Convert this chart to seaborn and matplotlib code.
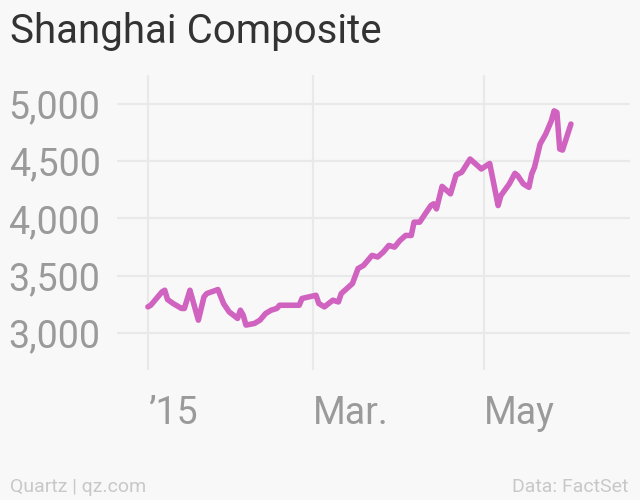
import pandas as pd
import numpy as np

import seaborn as sns
import matplotlib.pyplot as plt
import matplotlib.dates as mdates
from matplotlib.ticker import FuncFormatter

sns.set_style("white")

BG = "#f8f8f8"
LINE_COLOR = "#d062c0"
GRID_COLOR = "#e9e9e9"

# Shanghai Composite, values
dates = [
    "2015-01-01", "2015-01-02", "2015-01-05", "2015-01-06", "2015-01-07",
    "2015-01-08", "2015-01-10", "2015-01-13", "2015-01-14", "2015-01-16",
    "2015-01-17", "2015-01-19", "2015-01-21", "2015-01-22", "2015-01-26",
    "2015-01-28", "2015-01-30", "2015-02-02", "2015-02-03", "2015-02-04",
    "2015-02-05", "2015-02-08", "2015-02-10", "2015-02-12", "2015-02-14",
    "2015-02-16", "2015-02-17", "2015-02-24", "2015-02-25", "2015-03-02",
    "2015-03-03", "2015-03-05", "2015-03-08", "2015-03-10", "2015-03-11",
    "2015-03-15", "2015-03-17", "2015-03-19", "2015-03-22", "2015-03-24",
    "2015-03-26", "2015-03-28", "2015-03-30", "2015-04-01", "2015-04-03",
    "2015-04-05", "2015-04-06", "2015-04-08", "2015-04-10", "2015-04-12",
    "2015-04-13", "2015-04-14", "2015-04-16", "2015-04-19", "2015-04-21",
    "2015-04-23", "2015-04-26", "2015-04-28", "2015-04-30", "2015-05-03",
    "2015-05-04", "2015-05-06", "2015-05-07", "2015-05-10", "2015-05-12",
    "2015-05-13", "2015-05-15", "2015-05-17", "2015-05-18", "2015-05-19",
    "2015-05-21", "2015-05-23", "2015-05-25", "2015-05-26", "2015-05-27",
    "2015-05-28", "2015-05-29", "2015-06-01",
]
values = [
    3229, 3243, 3330, 3359, 3374,
    3293, 3258, 3215, 3215, 3374,
    3287, 3113, 3316, 3345, 3380,
    3258, 3185, 3128, 3200, 3157,
    3070, 3084, 3113, 3171, 3200,
    3215, 3243, 3243, 3302, 3330,
    3258, 3229, 3287, 3272, 3345,
    3432, 3563, 3591, 3678, 3664,
    3707, 3765, 3750, 3809, 3852,
    3852, 3968, 3968, 4041, 4113,
    4128, 4084, 4280, 4215, 4380,
    4403, 4519, 4476, 4432, 4480,
    4359, 4113, 4200, 4302, 4394,
    4374, 4302, 4272, 4389, 4447,
    4650, 4737, 4852, 4939, 4925,
    4606, 4597, 4824,
]

x_ticks = ["2015-01-01", "2015-03-01", "2015-05-01"]
x_tick_labels = ["\u201915", "Mar.", "May"]
y_ticks = [3000, 3500, 4000, 4500, 5000]

df = pd.DataFrame({"date": pd.to_datetime(dates), "value": values})

plt.rcParams["font.family"] = ["Roboto", "DejaVu Sans"]

fig = plt.figure(figsize=(6.4, 5), dpi=100, facecolor=BG)
ax = fig.add_axes([0.183, 0.26, 0.801, 0.59])
ax.set_facecolor(BG)

sns.lineplot(data=df, x="date", y="value", ax=ax, color=LINE_COLOR,
             linewidth=4.0, solid_joinstyle="round", solid_capstyle="round",
             zorder=3)

ax.set_xlim(pd.Timestamp("2014-12-21"), pd.Timestamp("2015-06-22"))
ax.set_ylim(2678, 5252)
ax.set_xticks(pd.to_datetime(x_ticks))
ax.set_xticklabels(x_tick_labels, ha="left")
ax.set_yticks(y_ticks)
ax.yaxis.set_major_formatter(FuncFormatter(lambda v, p: f"{int(v):,}"))

ax.grid(True, color=GRID_COLOR, linewidth=1.6, zorder=0)
ax.tick_params(axis="both", length=0, labelsize=27, labelcolor="#9a9a9a")
ax.tick_params(axis="y", pad=12)
ax.tick_params(axis="x", pad=18)
for s in ax.spines.values():
    s.set_visible(False)
ax.set_xlabel("")
ax.set_ylabel("")

fig.text(0.016, 0.914, "Shanghai Composite", fontsize=29, color="#333333",
         ha="left", va="baseline")
fig.text(0.016, 0.016, "Quartz | qz.com", fontsize=14, color="#c8c8c8",
         ha="left", va="baseline")
fig.text(0.982, 0.016, "Data: FactSet", fontsize=14, color="#c8c8c8",
         ha="right", va="baseline")

fig.savefig("out.png", dpi=100, facecolor=BG)
